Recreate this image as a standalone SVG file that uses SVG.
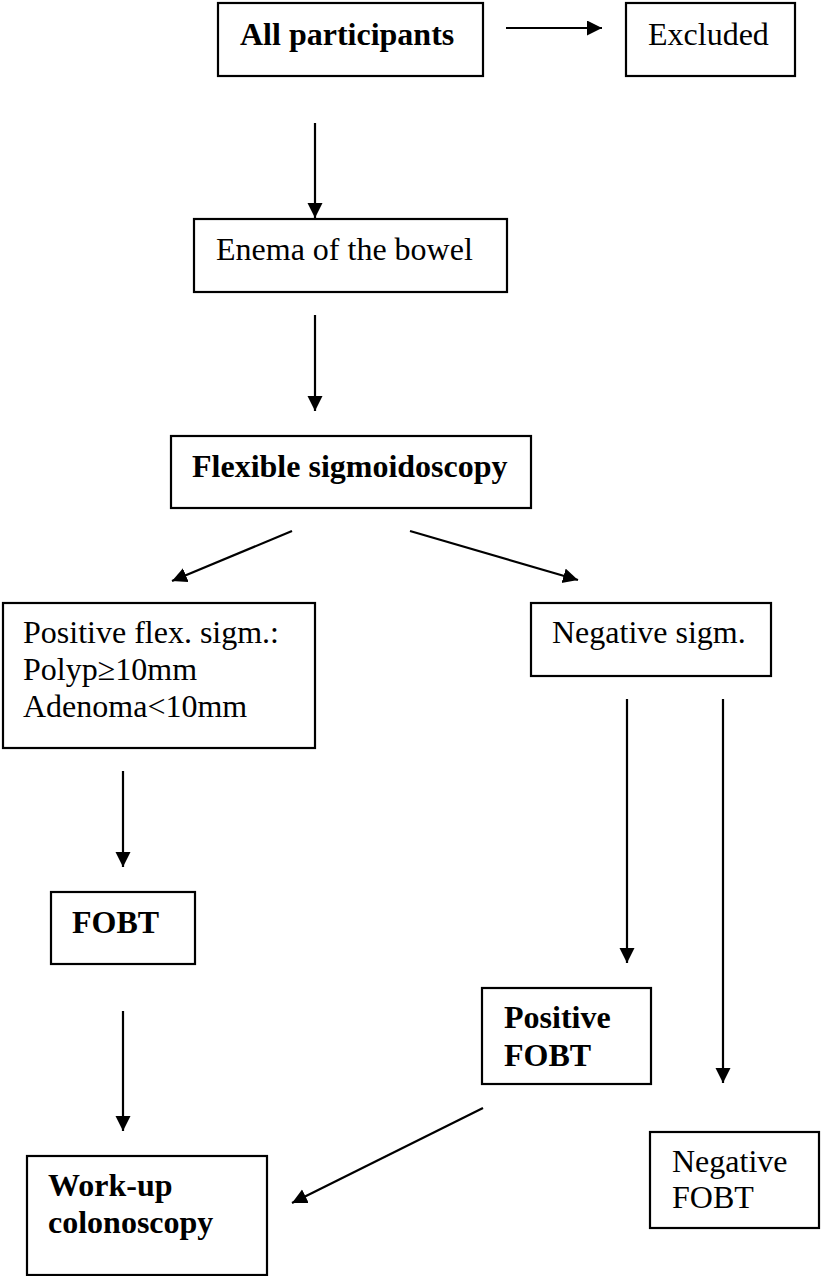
<svg xmlns="http://www.w3.org/2000/svg" width="822" height="1276" viewBox="0 0 822 1276">
<style>
.box{fill:#fff;stroke:#000;stroke-width:2.2}
.t{font-family:"Liberation Serif","Times New Roman",serif;font-size:32px;fill:#000}
.b{font-weight:bold}
.c{stroke:#000;stroke-width:2.2;fill:none;marker-end:url(#ah)}
</style>
<defs>
<marker id="ah" markerUnits="userSpaceOnUse" markerWidth="16" markerHeight="16" refX="15" refY="7.5" orient="auto">
<path d="M0,0 L15,7.5 L0,15 z" fill="#000"/>
</marker>
</defs>
<rect width="822" height="1276" fill="#fff"/>
<g id="connectors">
<line class="c" x1="506" y1="28" x2="602" y2="28"/>
<line class="c" x1="315" y1="123" x2="315" y2="218"/>
<line class="c" x1="315" y1="315" x2="315" y2="411"/>
<line class="c" x1="292" y1="531" x2="172" y2="581"/>
<line class="c" x1="410" y1="531" x2="578" y2="580"/>
<line class="c" x1="123" y1="771" x2="123" y2="867"/>
<line class="c" x1="123" y1="1011" x2="123" y2="1131"/>
<line class="c" x1="627" y1="699" x2="627" y2="963"/>
<line class="c" x1="723" y1="699" x2="723" y2="1083"/>
<line class="c" x1="483" y1="1108" x2="292" y2="1203"/>
</g>
<g id="all-participants">
<rect class="box" x="218" y="3" width="265" height="73"/>
<text class="t b" x="240" y="45">All participants</text>
</g>
<g id="excluded">
<rect class="box" x="626" y="3" width="169" height="73"/>
<text class="t" x="648" y="45">Excluded</text>
</g>
<g id="enema">
<rect class="box" x="194" y="219" width="313" height="73"/>
<text class="t" x="216" y="260">Enema of the bowel</text>
</g>
<g id="flex-sigm">
<rect class="box" x="171" y="436" width="360" height="72"/>
<text class="t b" x="192" y="477">Flexible sigmoidoscopy</text>
</g>
<g id="positive-flex">
<rect class="box" x="3" y="603" width="312" height="145"/>
<text class="t" x="23" y="643">Positive flex. sigm.:</text>
<text class="t" x="23" y="680">Polyp≥10mm</text>
<text class="t" x="23" y="717">Adenoma&lt;10mm</text>
</g>
<g id="negative-sigm">
<rect class="box" x="531" y="603" width="240" height="73"/>
<text class="t" x="552" y="643">Negative sigm.</text>
</g>
<g id="fobt">
<rect class="box" x="51" y="892" width="144" height="72"/>
<text class="t b" x="72" y="933">FOBT</text>
</g>
<g id="positive-fobt">
<rect class="box" x="482" y="988" width="169" height="96"/>
<text class="t b" x="504" y="1028">Positive</text>
<text class="t b" x="504" y="1066">FOBT</text>
</g>
<g id="negative-fobt">
<rect class="box" x="650" y="1132" width="169" height="96"/>
<text class="t" x="672" y="1172">Negative</text>
<text class="t" x="672" y="1208">FOBT</text>
</g>
<g id="work-up">
<rect class="box" x="27" y="1156" width="240" height="119"/>
<text class="t b" x="48" y="1196">Work-up</text>
<text class="t b" x="48" y="1233">colonoscopy</text>
</g>
</svg>
